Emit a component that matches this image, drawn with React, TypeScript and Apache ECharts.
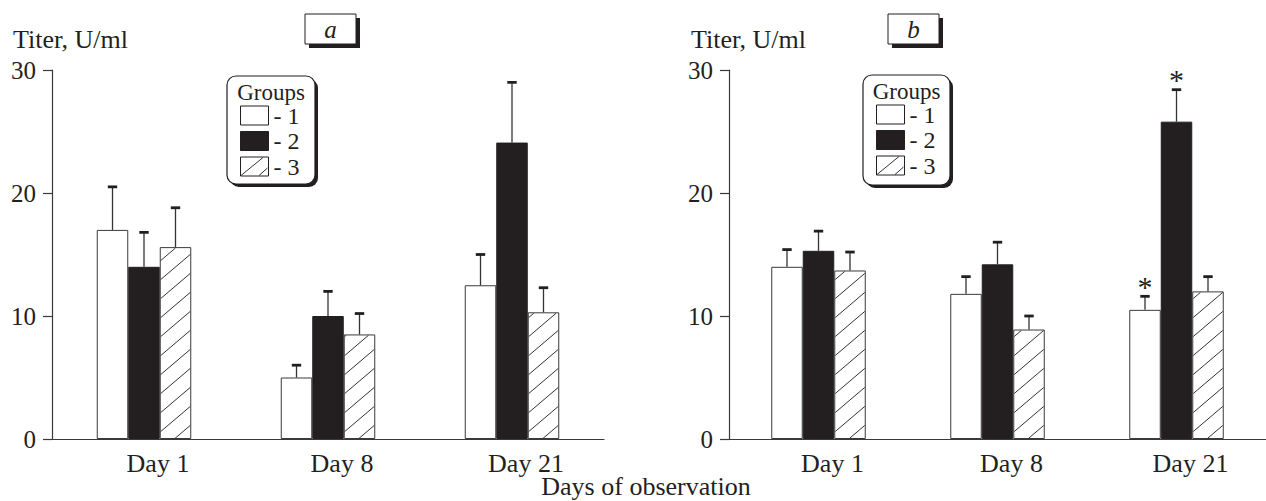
import { useEffect, useRef } from "react";
import * as echarts from "echarts";

// ---------- data ----------
const days = ["Day 1", "Day 8", "Day 21"];
const groups = ["1", "2", "3"];
const yTicks = [0, 10, 20, 30];

// panel a: means and standard errors (upper whisker length)
const aGroup1 = [17.0, 5.0, 12.5];
const aGroup2 = [14.0, 10.0, 24.1];
const aGroup3 = [15.6, 8.5, 10.3];
const aSe1 = [3.5, 1.0, 2.5];
const aSe2 = [2.8, 2.0, 4.9];
const aSe3 = [3.2, 1.7, 2.0];

// panel b
const bGroup1 = [14.0, 11.8, 10.5];
const bGroup2 = [15.3, 14.2, 25.8];
const bGroup3 = [13.7, 8.9, 12.0];
const bSe1 = [1.4, 1.4, 1.1];
const bSe2 = [1.6, 1.8, 2.6];
const bSe3 = [1.5, 1.1, 1.2];
const bStar1 = [0, 0, 1];
const bStar2 = [0, 0, 1];

const panelLetters = ["a", "b"];
const yName = "Titer, U/ml";
const xName = "Days of observation";
const legendTitle = "Groups";

// ---------- style ----------
const FONT = "Liberation Serif, Times New Roman, serif";
const INK = "#231f20";
const LINE = "#3a3a3a";
const BAR_W = 31.5;

type Panel = {
  g: number[][];
  se: number[][];
  star: number[][];
};

const panels: Panel[] = [
  { g: [aGroup1, aGroup2, aGroup3], se: [aSe1, aSe2, aSe3], star: [[0, 0, 0], [0, 0, 0], [0, 0, 0]] },
  { g: [bGroup1, bGroup2, bGroup3], se: [bSe1, bSe2, bSe3], star: [bStar1, bStar2, [0, 0, 0]] },
];

function hatchRender(params: any, api: any) {
  const i = api.value(0);
  const v = api.value(1);
  const top = api.coord([i, v]);
  const base = api.coord([i, 0]);
  const x0 = top[0] + BAR_W / 2 + 1;
  const x1 = top[0] + 1.5 * BAR_W - 1;
  const yT = top[1] + 1;
  const yB = base[1] - 0.5;
  const w = x1 - x0;
  const k = 0.85;
  const step = 19;
  const children: any[] = [];
  for (let c = yB + 12; c - k * w > yT - step * 2; c -= step) {
    const tMin = Math.max(0, (c - yB) / k);
    const tMax = Math.min(w, (c - yT) / k);
    if (tMax > tMin) {
      children.push({
        type: "line",
        shape: { x1: x0 + tMin, y1: c - k * tMin, x2: x0 + tMax, y2: c - k * tMax },
        style: { stroke: "#333", lineWidth: 1 },
      });
    }
  }
  return { type: "group", children };
}

function errRender(params: any, api: any) {
  const i = api.value(0);
  const mean = api.value(1);
  const topV = api.value(2);
  const k = api.value(3);
  const star = api.value(4);
  const pm = api.coord([i, mean]);
  const pt = api.coord([i, topV]);
  const x = pm[0] + (k - 1) * BAR_W;
  const children: any[] = [
    { type: "line", shape: { x1: x, y1: pm[1], x2: x, y2: pt[1] }, style: { stroke: "#333", lineWidth: 1.3 } },
    { type: "rect", shape: { x: x - 4.7, y: pt[1] - 1.4, width: 9.4, height: 2.8 }, style: { fill: INK } },
  ];
  if (star) {
    children.push({
      type: "text",
      style: {
        text: "*",
        x: x,
        y: pt[1] + 5,
        align: "center",
        verticalAlign: "bottom",
        fontSize: 30,
        fontFamily: FONT,
        fill: INK,
      },
    });
  }
  return { type: "group", children };
}

function legendBox(x: number, y: number, w: number, h: number, swX: number, swY: number) {
  return [
    { type: "rect", z: 1, shape: { x: x + 3, y: y + 3, width: w, height: h, r: 9 }, style: { fill: INK } },
    { type: "rect", z: 1, shape: { x, y, width: w, height: h, r: 9 }, style: { fill: "#fff", stroke: INK, lineWidth: 1.2 } },
    {
      type: "text",
      z: 5,
      style: { text: legendTitle, x: x + w / 2, y: y + 16, align: "center", verticalAlign: "middle", fontSize: 23, fontFamily: FONT, fill: INK },
    },
    // hatch on legend swatch of group 3
    { type: "line", z: 6, shape: { x1: swX + 1, y1: swY + 18.5, x2: swX + 23, y2: swY + 0.5 }, style: { stroke: "#333", lineWidth: 1 } },
    { type: "line", z: 6, shape: { x1: swX + 19, y1: swY + 18.5, x2: swX + 27.5, y2: swY + 11 }, style: { stroke: "#333", lineWidth: 1 } },
  ];
}

function letterBox(x: number, y: number, letter: string) {
  return [
    { type: "rect", z: 1, shape: { x: x + 4, y: y + 4, width: 51, height: 30 }, style: { fill: INK } },
    { type: "rect", z: 1, shape: { x, y, width: 51, height: 30 }, style: { fill: "#fff", stroke: INK, lineWidth: 1 } },
    {
      type: "text",
      z: 5,
      style: { text: letter, x: x + 25.5, y: y + 15, align: "center", verticalAlign: "middle", fontSize: 25, fontStyle: "italic", fontFamily: FONT, fill: INK },
    },
  ];
}

export default function App() {
  const ref = useRef<HTMLDivElement>(null);

  useEffect(() => {
    if (!ref.current) return;
    const chart = echarts.init(ref.current, null, { renderer: "svg" });

    const grids = [
      { left: 52, top: 70, width: 552, height: 369 },
      { left: 729, top: 70, width: 552, height: 369 },
    ];

    const xAxes = grids.map((_, gi) => ({
      type: "category",
      gridIndex: gi,
      data: days,
      axisTick: { show: false },
      axisLine: { lineStyle: { color: LINE, width: 1.2 } },
      axisLabel: { fontSize: 26, fontFamily: FONT, color: INK, margin: 11, padding: [0, 0, 0, 28] },
    }));

    const yAxes = grids.map((_, gi) => ({
      type: "value",
      gridIndex: gi,
      min: yTicks[0],
      max: yTicks[yTicks.length - 1],
      interval: yTicks[1] - yTicks[0],
      splitLine: { show: false },
      axisLine: { show: true, lineStyle: { color: LINE, width: 1.2 } },
      axisTick: { show: true, length: 9, lineStyle: { color: LINE, width: 1.2 } },
      axisLabel: { fontSize: 25, fontFamily: FONT, color: INK, margin: 16 },
    }));

    const series: any[] = [];
    panels.forEach((p, gi) => {
      const barStyles = [
        { color: "#fff", borderColor: LINE, borderWidth: 1 },
        { color: INK, borderColor: INK, borderWidth: 1 },
        { color: "#fff", borderColor: LINE, borderWidth: 1 },
      ];
      p.g.forEach((vals, k) => {
        series.push({
          type: "bar",
          name: groups[k],
          xAxisIndex: gi,
          yAxisIndex: gi,
          data: vals,
          barWidth: BAR_W,
          barGap: "0%",
          itemStyle: barStyles[k],
          emphasis: { disabled: true },
        });
      });
      series.push({
        type: "custom",
        xAxisIndex: gi,
        yAxisIndex: gi,
        data: p.g[2].map((v, i) => [i, v]),
        encode: { x: 0, y: 1 },
        renderItem: hatchRender,
        clip: false,
        z: 3,
      });
      const errData: number[][] = [];
      p.g.forEach((vals, k) => {
        vals.forEach((v, i) => {
          errData.push([i, v, v + p.se[k][i], k, p.star[k][i]]);
        });
      });
      series.push({
        type: "custom",
        xAxisIndex: gi,
        yAxisIndex: gi,
        data: errData,
        encode: { x: 0, y: [1, 2] },
        renderItem: errRender,
        clip: false,
        z: 4,
      });
    });

    const legendCommon = {
      data: groups,
      orient: "vertical",
      icon: "rect",
      itemWidth: 28,
      itemHeight: 19,
      itemGap: 1.5,
      padding: 0,
      selectedMode: false,
      formatter: "- {name}",
      z: 4,
      itemStyle: { borderColor: INK, borderWidth: 1 },
      textStyle: { fontFamily: FONT, fontSize: 24, color: INK },
    };

    chart.setOption({
      animation: false,
      backgroundColor: "#fff",
      grid: grids,
      xAxis: xAxes,
      yAxis: yAxes,
      legend: [
        { ...legendCommon, left: 240, top: 103.5 },
        { ...legendCommon, left: 876, top: 102.5 },
      ],
      series,
      graphic: [
        ...legendBox(227, 76, 88, 108, 240, 157),
        ...legendBox(863, 75, 87, 110, 876, 156),
        ...letterBox(305, 14, panelLetters[0]),
        ...letterBox(888, 14, panelLetters[1]),
        {
          type: "text",
          style: { text: yName, x: 13, y: 39, align: "left", verticalAlign: "middle", fontSize: 26, fontFamily: FONT, fill: INK },
        },
        {
          type: "text",
          style: { text: yName, x: 691, y: 39, align: "left", verticalAlign: "middle", fontSize: 26, fontFamily: FONT, fill: INK },
        },
        {
          type: "text",
          style: { text: xName, x: 646, y: 486, align: "center", verticalAlign: "middle", fontSize: 26, fontFamily: FONT, fill: INK },
        },
      ],
    });

    return () => chart.dispose();
  }, []);

  return <div ref={ref} style={{ position: "fixed", left: 0, top: 0, width: 1266, height: 501 }} />;
}
